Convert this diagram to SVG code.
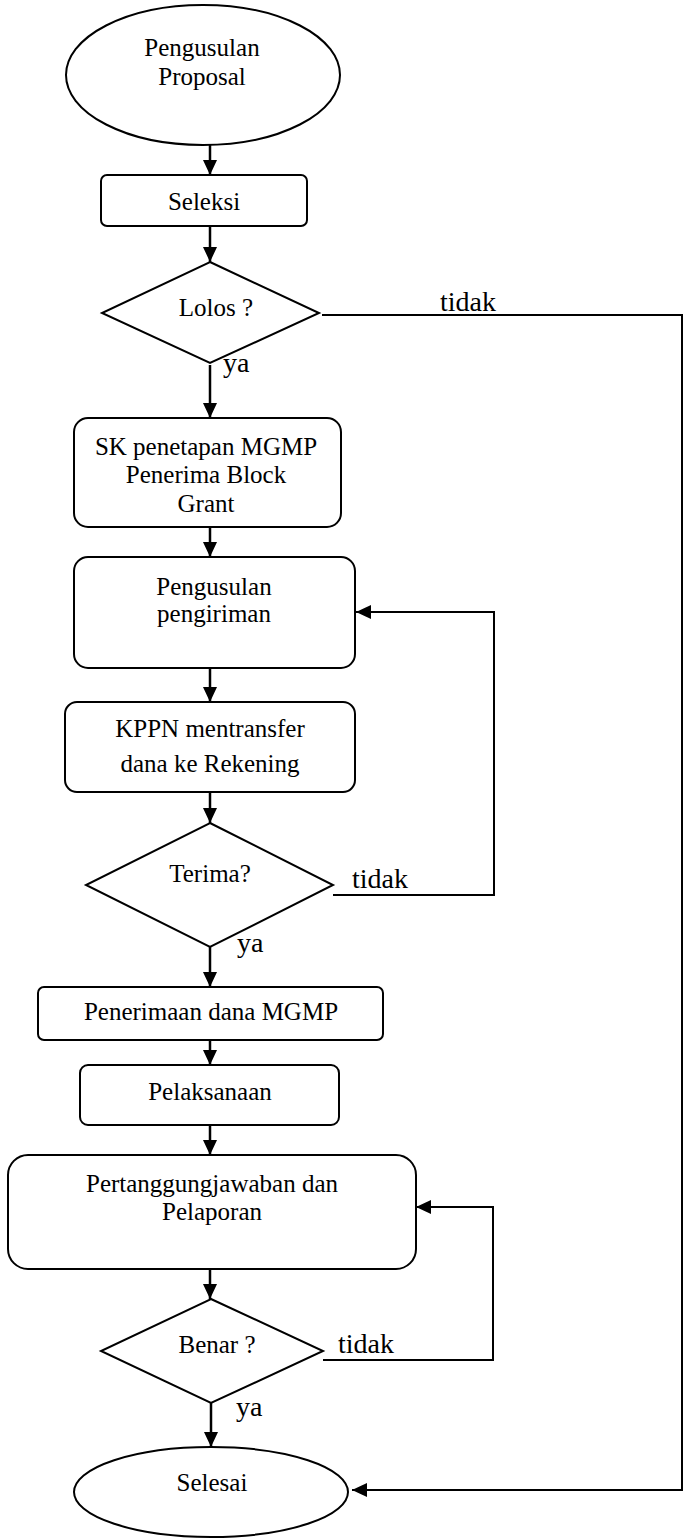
<svg xmlns="http://www.w3.org/2000/svg" width="684" height="1540" viewBox="0 0 684 1540">
<style>
.shape{fill:#fff;stroke:#000;stroke-width:2}
.t{font-family:"Liberation Serif","Times New Roman",serif;font-size:25px;fill:#000;text-anchor:middle}
.lbl{font-family:"Liberation Serif","Times New Roman",serif;font-size:28px;fill:#000}
.c{fill:none;stroke:#000;stroke-width:2.5}
.loop{fill:none;stroke:#000;stroke-width:2}
</style>
<defs>
<marker id="ah" markerUnits="userSpaceOnUse" markerWidth="16" markerHeight="14" refX="15" refY="7" orient="auto">
<path d="M0,0 L15,7 L0,14 z" fill="#000"/>
</marker>
</defs>
<rect width="684" height="1540" fill="#fff"/>
<g id="connectors">
<line class="c" x1="210" y1="145" x2="210" y2="175" marker-end="url(#ah)"/>
<line class="c" x1="210" y1="226" x2="210" y2="262" marker-end="url(#ah)"/>
<line class="c" x1="210" y1="365" x2="210" y2="418" marker-end="url(#ah)"/>
<line class="c" x1="210" y1="527" x2="210" y2="557" marker-end="url(#ah)"/>
<line class="c" x1="210" y1="668" x2="210" y2="702" marker-end="url(#ah)"/>
<line class="c" x1="210" y1="792" x2="210" y2="823" marker-end="url(#ah)"/>
<line class="c" x1="210" y1="947" x2="210" y2="987" marker-end="url(#ah)"/>
<line class="c" x1="210" y1="1040" x2="210" y2="1065" marker-end="url(#ah)"/>
<line class="c" x1="210" y1="1125" x2="210" y2="1155" marker-end="url(#ah)"/>
<line class="c" x1="210" y1="1269" x2="210" y2="1299" marker-end="url(#ah)"/>
<line class="c" x1="211" y1="1403" x2="211" y2="1447" marker-end="url(#ah)"/>
<polyline class="loop" points="322,315 682,315 682,1490 352,1490" marker-end="url(#ah)"/>
<polyline class="loop" points="333,895 494,895 494,612 356,612" marker-end="url(#ah)"/>
<polyline class="loop" points="323,1360 493,1360 493,1207 416,1207" marker-end="url(#ah)"/>
<text class="lbl" x="440" y="311">tidak</text>
<text class="lbl" x="223" y="372">ya</text>
<text class="lbl" x="352" y="888">tidak</text>
<text class="lbl" x="237" y="952">ya</text>
<text class="lbl" x="338" y="1353">tidak</text>
<text class="lbl" x="236" y="1416">ya</text>
</g>
<g id="start">
<ellipse class="shape" cx="203" cy="75" rx="137" ry="70"/>
<text class="t" x="202" y="56">Pengusulan</text>
<text class="t" x="202" y="85">Proposal</text>
</g>
<g id="seleksi">
<rect class="shape" x="101" y="175" width="206" height="51" rx="6"/>
<text class="t" x="204" y="210">Seleksi</text>
</g>
<g id="lolos">
<polygon class="shape" points="210,262 319,313 210,363 102,313"/>
<text class="t" x="216" y="316">Lolos ?</text>
</g>
<g id="sk">
<rect class="shape" x="74" y="418" width="267" height="109" rx="14"/>
<text class="t" x="206" y="455">SK penetapan MGMP</text>
<text class="t" x="206" y="483">Penerima Block</text>
<text class="t" x="206" y="512">Grant</text>
</g>
<g id="pengusulan-pengiriman">
<rect class="shape" x="74" y="557" width="281" height="111" rx="14"/>
<text class="t" x="214" y="595">Pengusulan</text>
<text class="t" x="214" y="622">pengiriman</text>
</g>
<g id="kppn">
<rect class="shape" x="65" y="702" width="290" height="90" rx="12"/>
<text class="t" x="210" y="737">KPPN mentransfer</text>
<text class="t" x="210" y="772">dana ke Rekening</text>
</g>
<g id="terima">
<polygon class="shape" points="210,823 333,885 210,947 86,885"/>
<text class="t" x="210" y="882">Terima?</text>
</g>
<g id="penerimaan">
<rect class="shape" x="38" y="987" width="345" height="53" rx="6"/>
<text class="t" x="211" y="1020">Penerimaan dana MGMP</text>
</g>
<g id="pelaksanaan">
<rect class="shape" x="80" y="1065" width="259" height="60" rx="8"/>
<text class="t" x="210" y="1100">Pelaksanaan</text>
</g>
<g id="pertanggungjawaban">
<rect class="shape" x="8" y="1155" width="408" height="114" rx="20"/>
<text class="t" x="212" y="1192">Pertanggungjawaban dan</text>
<text class="t" x="212" y="1220">Pelaporan</text>
</g>
<g id="benar">
<polygon class="shape" points="211,1299 323,1351 211,1403 101,1351"/>
<text class="t" x="217" y="1353">Benar ?</text>
</g>
<g id="selesai">
<ellipse class="shape" cx="211" cy="1492" rx="137" ry="45"/>
<text class="t" x="212" y="1491">Selesai</text>
</g>
</svg>
